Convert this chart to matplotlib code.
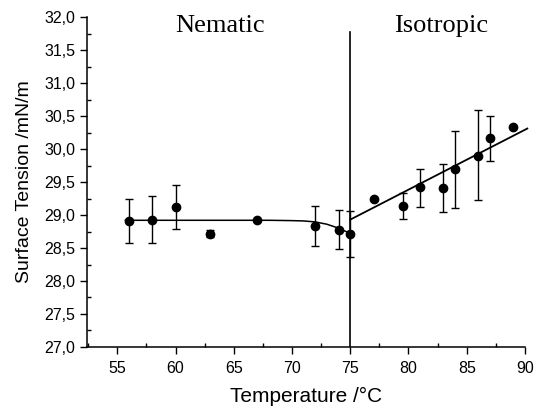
import numpy as np
import matplotlib
matplotlib.use("Agg")
import matplotlib.pyplot as plt
from matplotlib.ticker import MultipleLocator, FuncFormatter

# measured points
temp = [56, 58, 60, 63, 67, 72, 74, 75, 77, 79.5, 81, 83, 84, 86, 87, 89]
tension = [28.91, 28.93, 29.12, 28.71, 28.93, 28.83, 28.78, 28.71,
           29.24, 29.14, 29.42, 29.41, 29.70, 29.90, 30.17, 30.34]
err_top = [29.24, 29.29, 29.46, 28.77, 28.93, 29.13, 29.08, 29.06,
           29.24, 29.33, 29.70, 29.78, 30.28, 30.59, 30.50, 30.34]
err_bot = [28.58, 28.58, 28.79, 28.66, 28.93, 28.53, 28.48, 28.37,
           29.24, 28.94, 29.12, 29.04, 29.10, 29.22, 29.82, 30.34]

# fitted curves
nem_T = [55.7, 60, 65, 68, 70, 71, 72, 73, 74, 74.5, 75]
nem_S = [28.92, 28.92, 28.92, 28.92, 28.915, 28.91, 28.895, 28.86, 28.80, 28.76, 28.72]
iso_T = [75, 90.2]
iso_S = [28.93, 30.31]

plt.rcParams['font.family'] = ['Liberation Sans', 'DejaVu Sans']

fig = plt.figure(figsize=(5.38, 4.09), dpi=100)
ax = fig.add_axes([0.1617, 0.1516, 0.8141, 0.8068])

t = np.array(temp)
s = np.array(tension)
lo = s - np.array(err_bot)
hi = np.array(err_top) - s
ax.errorbar(t, s, yerr=[lo, hi], fmt='o', color='black', markersize=6,
            ecolor='black', elinewidth=1, capsize=3, capthick=1)

ax.plot(nem_T, nem_S, color='black', lw=1.1)
ax.plot(iso_T, iso_S, color='black', lw=1.3, clip_on=False)
ax.plot([75, 75], [27.0, 31.78], color='black', lw=1.2)

ax.text(63.8, 31.78, 'Nematic', family='Liberation Serif', fontsize=19,
        ha='center', va='baseline')
ax.text(82.8, 31.78, 'Isotropic', family='Liberation Serif', fontsize=19,
        ha='center', va='baseline')

ax.set_xlim(52.4, 90)
ax.set_ylim(27.0, 32.0)
ax.xaxis.set_major_locator(MultipleLocator(5))
ax.xaxis.set_minor_locator(MultipleLocator(2.5))
ax.yaxis.set_major_locator(MultipleLocator(0.5))
ax.yaxis.set_minor_locator(MultipleLocator(0.25))
ax.yaxis.set_major_formatter(FuncFormatter(lambda v, p: f"{v:.1f}".replace('.', ',')))
ax.tick_params(which='major', direction='out', length=5, width=1, labelsize=11.5)
ax.tick_params(axis='x', which='major', pad=5)
ax.tick_params(which='minor', direction='in', length=3, width=1)

for side in ['top', 'right']:
    ax.spines[side].set_visible(False)
ax.spines['left'].set_linewidth(1.1)
ax.spines['bottom'].set_linewidth(1.1)

ax.set_xlabel('Temperature /°C', fontsize=15, labelpad=8)
ax.set_ylabel('Surface Tension /mN/m', fontsize=14, labelpad=8)

fig.savefig('out.png', dpi=100)
